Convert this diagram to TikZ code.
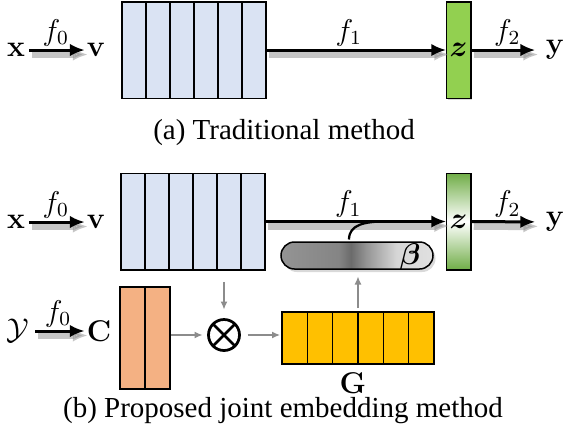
\documentclass[tikz,border=0pt]{standalone}
\usepackage{amsmath,amssymb,bm}
\usepackage[no-math]{fontspec}
\setmainfont{Liberation Serif}
\usetikzlibrary{arrows.meta,calc,shadows,shapes,positioning}

\definecolor{cellblue}{HTML}{DAE3F3}
\definecolor{zgreen}{HTML}{92D050}
\definecolor{zdark}{HTML}{70AD47}
\definecolor{corange}{HTML}{F4B183}
\definecolor{gyellow}{HTML}{FFC000}

\pgfdeclarehorizontalshading{pillshade}{100bp}{color(0bp)=(black!42); color(25bp)=(black!42); color(44bp)=(black!48); color(48bp)=(black!58); color(53bp)=(black!42); color(63bp)=(black!16); color(75bp)=(black!12); color(100bp)=(black!12)}

\tikzset{
  lab/.style={inner sep=0.6pt, font=\fontsize{12}{14}\selectfont},
  flab/.style={inner sep=1pt, font=\fontsize{12}{14}\selectfont},
  captext/.style={inner sep=0pt, font=\fontsize{11.6}{14}\selectfont},
  feat/.style={draw, line width=0.6pt, inner sep=0pt, outer sep=0pt},
  wide/.style={feat, minimum width=57.6pt, minimum height=38.6pt, fill=cellblue},
  zbar/.style={feat, minimum width=9.8pt, minimum height=38.6pt, font=\fontsize{12}{14}\selectfont,
    drop shadow={opacity=.3, shadow xshift=.6pt, shadow yshift=-.6pt}},
  cell/.style={line width=0.6pt},
  arr/.style={-{Latex[length=6pt,width=5pt]}, line width=1.2pt,
    preaction={draw=black!45, opacity=.5, line width=3pt, transform canvas={xshift=1.2pt,yshift=-1.8pt}}},
  garr/.style={-{Latex[length=3.2pt,width=2.8pt]}, draw=black!45, line width=0.5pt}
}

\begin{document}
\begin{tikzpicture}[x=0.4pt,y=-0.4pt]
\useasboundingbox (0,0) rectangle (566,441);
% (a)
\node(xa)[lab] at (16,50){$\mathbf{x}$};
\node(va)[lab] at (96,50){$\mathbf{v}$};
\node(boxa)[wide] at (194,50){};
\node(za)[zbar, fill=zgreen] at (458.5,50){$\bm{z}$};
\node(ya)[lab] at (555,50){$\mathbf{y}$};
\node(capa)[captext] at (284,133){(a) Traditional method};
\draw[arr, shorten <=1pt] (xa) -- node[flab,above]{$f_0$} (va);
\draw[arr] (boxa) -- node[flab,above,pos=.46]{$f_1$} (za);
\draw[arr, shorten >=3.4pt] (za) -- node[flab,above]{$f_2$} (ya);
% (b)
\node(xb)[lab] at (16,222){$\mathbf{x}$};
\node(vb)[lab] at (96,222){$\mathbf{v}$};
\node(boxb)[wide] at (193,221.5){};
\node(zb)[zbar, top color=zdark, bottom color=zdark, middle color=white] at (458.5,221.5){$\bm{z}$};
\node(yb)[lab] at (555,222){$\mathbf{y}$};
\node(beta)[feat, shading=pillshade, rounded corners=5.4pt, minimum width=60.8pt, minimum height=10.8pt,
  drop shadow={opacity=.3, shadow xshift=1pt, shadow yshift=-1.2pt}] at (357,255.5){};
\node(betalab)[lab] at (410,257){$\bm{\beta}$};
\coordinate(merge) at (385,221.5);
\draw[arr, shorten <=1pt] (xb) -- node[flab,above]{$f_0$} (vb);
\draw[arr] (boxb) -- node[flab,above,pos=.46]{$f_1$} (zb);
\draw[arr, shorten >=3.4pt] (zb) -- node[flab,above]{$f_2$} (yb);
\draw[line width=0.9pt] ([xshift=-3.2pt,yshift=1pt]beta.north) .. controls +(0,6pt) and +(-8pt,0) .. (merge);

\node(cy)[lab] at (18,331){$\mathcal{Y}$};
\node(cb)[lab] at (99,331){$\mathbf{C}$};
\node(cbox)[feat, fill=corange, minimum width=20pt, minimum height=40.8pt] at (145,338){};
\node(ot)[circle, draw, line width=1.1pt, minimum size=12.4pt, inner sep=0pt, outer sep=0pt] at (224,335){};
\node(gbox)[feat, fill=gyellow, minimum width=60.8pt, minimum height=20.8pt] at (358,338){};
\node(glab)[lab, below=2.6pt of gbox, xshift=-2pt]{$\mathbf{G}$};
\node(capb)[captext] at (283,411){(b) Proposed joint embedding method};
\draw[arr, shorten <=1.6pt] (cy) -- node[flab,above]{$f_0$} (cb);

\foreach \b in {boxa,boxb,gbox}
  \foreach \i in {1,...,5}
    \draw[cell] ($(\b.north west)!\i/6!(\b.north east)$) -- ($(\b.south west)!\i/6!(\b.south east)$);
\draw[cell] (cbox.north) -- (cbox.south);
\draw[line width=1.1pt] (ot.north west) -- (ot.south east) (ot.north east) -- (ot.south west);

\draw[garr, shorten <=4.8pt, shorten >=4pt] (boxb.south -| ot) -- (ot.north);
\draw[garr, shorten <=.4pt, shorten >=2.4pt] (cbox.east |- ot) -- (ot.west);
\draw[garr, shorten <=3.2pt, shorten >=.8pt] (ot.east) -- (gbox.west |- ot);
\draw[garr, shorten <=1.6pt, shorten >=3pt] (gbox.north) -- (gbox.north |- beta.south);
\end{tikzpicture}
\end{document}
